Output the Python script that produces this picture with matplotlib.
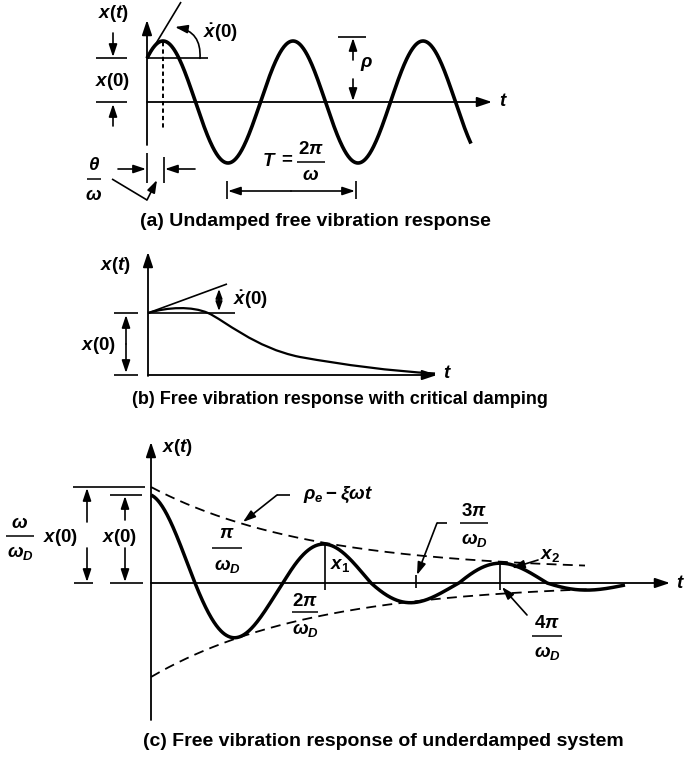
import numpy as np
import matplotlib
matplotlib.use('Agg')
import matplotlib.pyplot as plt
from matplotlib.path import Path
from matplotlib.patches import PathPatch

plt.rcParams['font.family'] = ['Liberation Sans', 'DejaVu Sans']
plt.rcParams['font.weight'] = 'bold'
plt.rcParams['mathtext.fontset'] = 'custom'
plt.rcParams['mathtext.rm'] = 'Liberation Sans:bold'
plt.rcParams['mathtext.it'] = 'Liberation Sans:italic:bold'
plt.rcParams['mathtext.bf'] = 'Liberation Sans:bold'

# page is laid out in pixel units (y grows downward)

# (a) undamped response x = rho*cos(w*t - theta)
a_t0, a_t1 = 147, 471       # start of time axis, end of curve
a_zero = 102                # level of x = 0
a_rho = 61                  # amplitude
a_period = 130              # T = 2*pi/w
a_theta_w = 16              # theta/w, first peak after t = 0

# (b) critical damping, control points
b_curve = [(148, 313), (168, 307), (192, 306), (208, 313),
           (224, 320), (255, 348), (300, 357),
           (345, 365), (390, 371), (435, 373.5)]

# (c) underdamped response
c_t0, c_t1 = 151, 625
c_zero = 583
c_period = 176              # 2*pi/w_D
c_pos_amp = (8, 80, 0.00545)    # floor, decaying part, rate (positive lobes)
c_neg_amp = (0, 90, 0.0058)     # negative lobes
c_env_up = (12, 84, 0.0063)     # upper dashed envelope
c_env_lo = (0, 94, 0.0062)      # lower dashed envelope
c_env_up_end, c_env_lo_end = 585, 590

captions = ['(a) Undamped free vibration response',
            '(b) Free vibration response with critical damping',
            '(c) Free vibration response of underdamped system']

K = 'black'
fig = plt.figure(figsize=(6.85, 7.61), dpi=100)
ax = fig.add_axes([0, 0, 1, 1])
ax.set_xlim(0, 685)
ax.set_ylim(761, 0)
ax.axis('off')


def line(xs, ys, lw=1.2, **kw):
    ax.plot(xs, ys, color=K, lw=lw, solid_capstyle='butt', **kw)


def arrow(x0, y0, x1, y1, lw=1.2, hl=0.75, hw=0.25, **kw):
    ax.annotate('', xy=(x1, y1), xytext=(x0, y0),
                arrowprops=dict(arrowstyle=f'-|>,head_length={hl},head_width={hw}',
                                color=K, lw=lw, shrinkA=0, shrinkB=0,
                                mutation_scale=10, **kw))


def txt(x, y, s, size=13.5, ha='center'):
    ax.text(x, y, s, fontsize=size, ha=ha, va='center', color=K)


def frac(x, ytop, ybar, ybot, num, den, half, size=13.5):
    txt(x, ytop, num, size)
    line([x - half, x + half], [ybar, ybar], lw=1.1)
    txt(x, ybot, den, size)


def amp(p, s):
    return p[0] + p[1] * np.exp(-p[2] * s)


# ---------------- (a) ----------------
t = np.linspace(a_t0, a_t1, 500)
xa = a_zero - a_rho * np.cos(2 * np.pi * (t - a_t0 - a_theta_w) / a_period)
line(t, xa, lw=2.6)
x0a = xa[0]
arrow(a_t0, 145, a_t0, 20, lw=1.3, hl=0.9, hw=0.3)
arrow(a_t0, a_zero, 492, a_zero, lw=1.3, hl=0.9, hw=0.3)
txt(503, a_zero, '$t$')
line([a_t0, 208], [x0a, x0a])
line([a_t0, 181], [x0a, 2])
arrow(200, x0a, 175, 27, connectionstyle='arc3,rad=0.45')
txt(221, 33, r'$\dot{x}(0)$')
line([a_t0 + a_theta_w] * 2, [42, 130], lw=1.4, linestyle=(0, (2.2, 1.6)))
txt(113, 14, '$x(t)$')
arrow(113, 33, 113, 57)
line([96, 127], [x0a, x0a])
txt(113, 81, '$x(0)$')
line([96, 127], [a_zero, a_zero])
arrow(113, 126, 113, 104)
frac(94, 165, 179, 195, r'$\theta$', r'$\omega$', 7)
line([a_t0, a_t0], [153, 183])
line([a_t0 + a_theta_w + 1] * 2, [157, 183])
arrow(118, 169, 146, 169)
arrow(195, 169, 165, 169)
line([112, 147], [179, 200])
arrow(147, 200, 157, 180)
txt(269, 161, '$T$')
txt(287, 160, '=')
frac(311, 150, 162, 175, r'$2\pi$', r'$\omega$', 14)
mid = 291
arrow(mid, 191, 228, 191)
arrow(mid, 191, 355, 191)
line([227, 227], [181, 199])
line([356, 356], [181, 199])
line([338, 366], [a_zero - a_rho - 4, a_zero - a_rho - 4])
arrow(353, 60, 353, 38)
txt(367, 64, r'$\rho$')
arrow(353, 79, 353, 101)
txt(315, 222, captions[0], size=14)

# ---------------- (b) ----------------
arrow(148, 376, 148, 252, lw=1.3, hl=0.9, hw=0.3)
arrow(148, 375, 437, 375, lw=1.3, hl=0.9, hw=0.3)
txt(447, 373, '$t$')
txt(115, 266, '$x(t)$')
line([148, 235], [313, 313])
line([148, 227], [313, 284])
arrow(219, 300, 219, 289, hl=0.55, hw=0.2)
arrow(219, 300, 219, 311, hl=0.55, hw=0.2)
txt(251, 300, r'$\dot{x}(0)$')
line([114, 138], [313, 313])
line([114, 138], [375, 375])
arrow(126, 344, 126, 315)
arrow(126, 344, 126, 373)
txt(99, 346, '$x(0)$')
codes = [Path.MOVETO] + [Path.CURVE4] * (len(b_curve) - 1)
ax.add_patch(PathPatch(Path(b_curve, codes), fill=False, lw=1.6, ec=K))
txt(340, 400, captions[1], size=13)

# ---------------- (c) ----------------
s = np.linspace(0, c_t1 - c_t0, 800)
c = np.cos(2 * np.pi * s / c_period)
xc = np.where(c > 0, amp(c_pos_amp, s), amp(c_neg_amp, s)) * c
line(c_t0 + s, c_zero - xc, lw=2.5)
su = np.linspace(0, c_env_up_end - c_t0, 200)
line(c_t0 + su, c_zero - amp(c_env_up, su), lw=1.3, linestyle=(0, (5.5, 3.5)))
sl = np.linspace(0, c_env_lo_end - c_t0, 200)
line(c_t0 + sl, c_zero + amp(c_env_lo, sl), lw=1.3, linestyle=(0, (5.5, 3.5)))
arrow(c_t0, 720, c_t0, 442, lw=1.3, hl=0.9, hw=0.3)
arrow(c_t0, c_zero, 670, c_zero, lw=1.3, hl=0.9, hw=0.3)
txt(680, c_zero, '$t$')
txt(162, 448, '$x(t)$', ha='left')

line([73, 145], [487, 487])
line([110, 142], [495, 495])
line([74, 93], [c_zero, c_zero])
line([110, 143], [c_zero, c_zero])
arrow(87, 522, 87, 488)
arrow(87, 548, 87, 582)
arrow(125, 520, 125, 496)
arrow(125, 548, 125, 582)
frac(20, 523, 536, 553, r'$\omega$', r'$\omega_D$', 14)
txt(61, 537, '$x(0)$')
txt(120, 537, '$x(0)$')

txt(303, 495, r'$\rho_e - \xi\omega t$', ha='left')
line([290, 277], [495, 495])
arrow(277, 495, 243, 522)
frac(227, 534, 548, 566, r'$\pi$', r'$\omega_D$', 15)
line([325, 325], [545, 590])
txt(330, 566, '$x_1$', ha='left')
frac(305, 601, 612, 630, r'$2\pi$', r'$\omega_D$', 13)
frac(474, 511, 523, 540, r'$3\pi$', r'$\omega_D$', 14)
line([447, 437], [523, 523])
arrow(437, 523, 417, 575)
line([416, 416], [575, 588])
txt(550, 555, '$x_2$')
arrow(538, 560, 512, 568)
line([500, 500], [563, 590])
frac(547, 624, 636, 653, r'$4\pi$', r'$\omega_D$', 15)
arrow(527, 615, 502, 587)
txt(383, 742, captions[2], size=14)

fig.savefig('out.png', dpi=100)
